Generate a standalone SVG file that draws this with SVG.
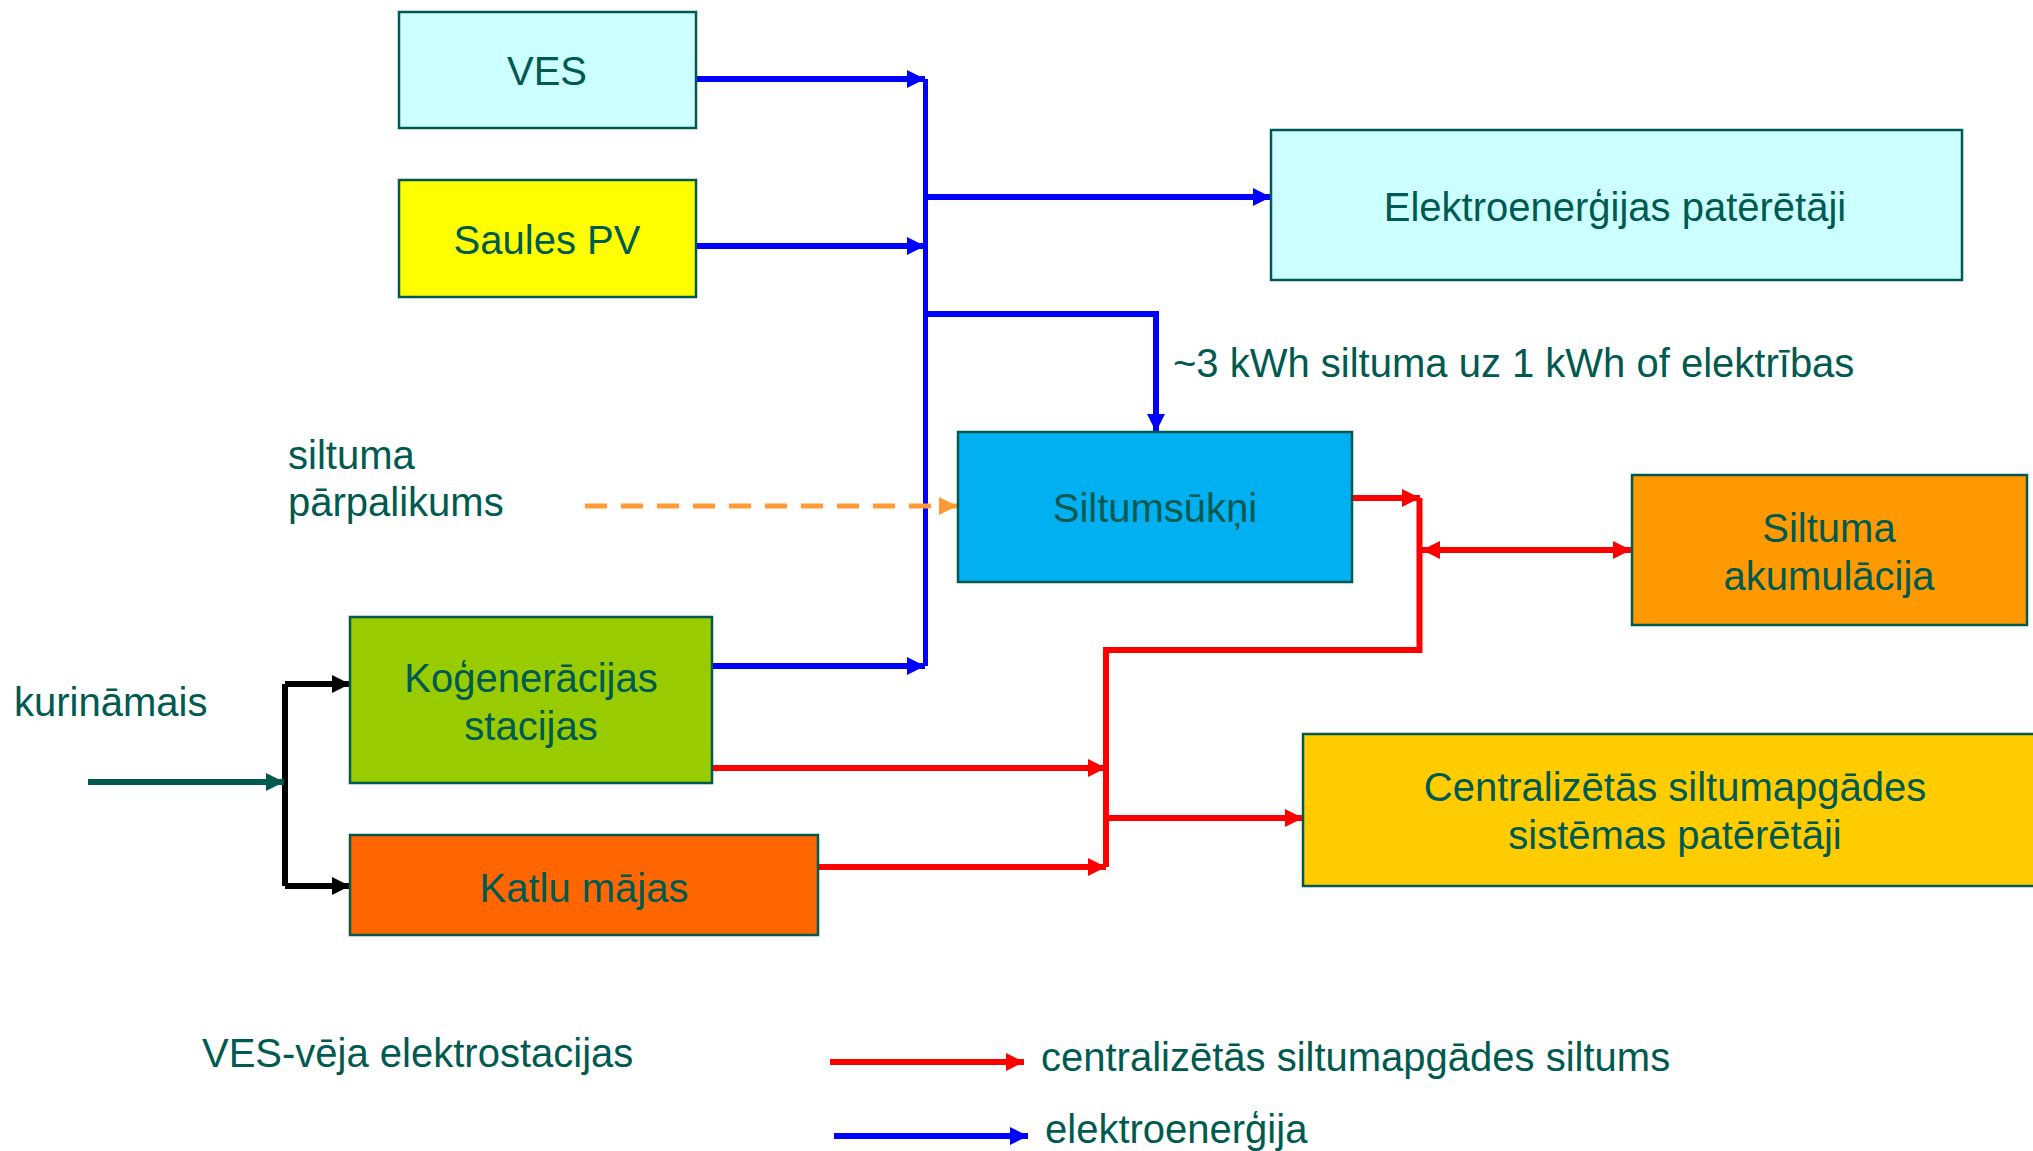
<svg xmlns="http://www.w3.org/2000/svg" width="2033" height="1151" viewBox="0 0 2033 1151">
<style>
.box{stroke:#005A50;stroke-width:2.5}
text{font-family:"Liberation Sans",Arial,sans-serif;font-size:40px;fill:#005A50}
.c{text-anchor:middle}
.b{stroke:#0000FF;stroke-width:6;fill:none}
.r{stroke:#FF0000;stroke-width:6;fill:none}
.k{stroke:#000000;stroke-width:6;fill:none}
</style>
<defs>
<marker id="ab" markerUnits="userSpaceOnUse" markerWidth="20" markerHeight="20" refX="18" refY="9" orient="auto"><path d="M0,0 L18,9 L0,18 z" fill="#0000FF"/></marker>
<marker id="ar" markerUnits="userSpaceOnUse" markerWidth="20" markerHeight="20" refX="18" refY="9" orient="auto"><path d="M0,0 L18,9 L0,18 z" fill="#FF0000"/></marker>
<marker id="ars" markerUnits="userSpaceOnUse" markerWidth="20" markerHeight="20" refX="0" refY="9" orient="auto"><path d="M18,0 L0,9 L18,18 z" fill="#FF0000"/></marker>
<marker id="ak" markerUnits="userSpaceOnUse" markerWidth="20" markerHeight="20" refX="18" refY="9" orient="auto"><path d="M0,0 L18,9 L0,18 z" fill="#000000"/></marker>
<marker id="at" markerUnits="userSpaceOnUse" markerWidth="20" markerHeight="20" refX="18" refY="9" orient="auto"><path d="M0,0 L18,9 L0,18 z" fill="#005A50"/></marker>
<marker id="ao" markerUnits="userSpaceOnUse" markerWidth="20" markerHeight="20" refX="18" refY="9" orient="auto"><path d="M0,0 L18,9 L0,18 z" fill="#FF9933"/></marker>
</defs>
<rect width="2033" height="1151" fill="#FFFFFF"/>
<g id="connectors">
<path class="b" d="M696,79 H925" marker-end="url(#ab)"/>
<path class="b" d="M696,246 H925" marker-end="url(#ab)"/>
<path class="b" d="M712,666 H925" marker-end="url(#ab)"/>
<path class="b" d="M925.5,79 V666" style="stroke-width:5"/>
<path class="b" d="M925,197 H1271" marker-end="url(#ab)"/>
<path class="b" d="M925,314 H1156 V432" marker-end="url(#ab)"/>
<path d="M585,506 H957" stroke="#FF9933" stroke-width="5" stroke-dasharray="22,14" fill="none" marker-end="url(#ao)"/>
<path class="r" d="M1352,498 H1420" marker-end="url(#ar)"/>
<path class="r" d="M1419.5,498 V650 H1106 V867"/>
<path class="r" d="M1422,550 H1631" marker-start="url(#ars)" marker-end="url(#ar)"/>
<path class="r" d="M712,768 H1106" marker-end="url(#ar)"/>
<path class="r" d="M818,867 H1106" marker-end="url(#ar)"/>
<path class="r" d="M1106,818 H1303" marker-end="url(#ar)"/>
<path class="k" d="M285,684 V886"/>
<path class="k" d="M285,684 H350" marker-end="url(#ak)"/>
<path class="k" d="M285,886 H350" marker-end="url(#ak)"/>
<path d="M88,782 H284" stroke="#005A50" stroke-width="6" fill="none" marker-end="url(#at)"/>
</g>
<g id="ves"><rect class="box" x="399" y="12" width="297" height="116" fill="#CCFFFF"/><text class="c" x="547" y="85">VES</text></g>
<g id="saules"><rect class="box" x="399" y="180" width="297" height="117" fill="#FFFF00"/><text class="c" x="547" y="254">Saules PV</text></g>
<g id="elektro"><rect class="box" x="1271" y="130" width="691" height="150" fill="#CCFFFF"/><text class="c" x="1615" y="221">Elektroenerģijas patērētāji</text></g>
<g id="siltumsukni"><rect class="box" x="958" y="432" width="394" height="150" fill="#00B0F0"/><text class="c" x="1155" y="522">Siltumsūkņi</text></g>
<g id="akum"><rect class="box" x="1632" y="475" width="395" height="150" fill="#FF9900"/><text class="c" x="1829" y="542">Siltuma</text><text class="c" x="1829" y="590">akumulācija</text></g>
<g id="kogen"><rect class="box" x="350" y="617" width="362" height="166" fill="#99CC00"/><text class="c" x="531" y="692">Koģenerācijas</text><text class="c" x="531" y="740">stacijas</text></g>
<g id="katlu"><rect class="box" x="350" y="835" width="468" height="100" fill="#FF6600"/><text class="c" x="584" y="902">Katlu mājas</text></g>
<g id="central"><rect class="box" x="1303" y="734" width="740" height="152" fill="#FFCC00"/><text class="c" x="1675" y="801">Centralizētās siltumapgādes</text><text class="c" x="1675" y="849">sistēmas patērētāji</text></g>
<g id="labels">
<text x="1173" y="377">~3 kWh siltuma uz 1 kWh of elektrības</text>
<text x="288" y="469">siltuma</text>
<text x="288" y="516">pārpalikums</text>
<text x="14" y="716">kurināmais</text>
</g>
<g id="legend">
<text x="202" y="1067">VES-vēja elektrostacijas</text>
<path class="r" d="M830,1062 H1024" marker-end="url(#ar)"/>
<text x="1041" y="1071">centralizētās siltumapgādes siltums</text>
<path class="b" d="M834,1136 H1028" marker-end="url(#ab)"/>
<text x="1045" y="1143">elektroenerģija</text>
</g>
</svg>
